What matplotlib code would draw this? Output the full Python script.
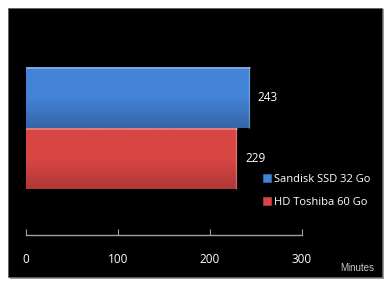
import numpy as np
import matplotlib.pyplot as plt
from matplotlib.patches import Rectangle
from matplotlib.colors import LinearSegmentedColormap

# données
series = ['Sandisk SSD 32 Go', 'HD Toshiba 60 Go']
values = [243, 229]
colors = ['#4383d6', '#d84644']
dark = ['#3565a8', '#b03836']
xticks = [0, 100, 200, 300]

W, H = 390, 285
fig = plt.figure(figsize=(W / 100, H / 100), dpi=100, facecolor='white')

# panneau noir avec ombre
fig.patches.append(Rectangle((10 / W, 6 / H), 374 / W, 270 / H, transform=fig.transFigure,
                             facecolor='#9a9a9a', edgecolor='none', zorder=-2))
fig.patches.append(Rectangle((8 / W, 8 / H), 374 / W, 269 / H, transform=fig.transFigure,
                             facecolor='black', edgecolor='#606060', lw=0.6, zorder=-1))

ax = fig.add_axes([26 / W, (H - 235) / H, 276 / W, 205 / H])
ax.set_facecolor('none')

ypos = [1, 0]
bars = ax.barh(ypos, values, height=1.0, color=colors, edgecolor='none', zorder=2)
for b, c1, c2 in zip(bars, colors, dark):
    x0, y0 = b.get_x(), b.get_y()
    w, h = b.get_width(), b.get_height()
    grad = np.linspace(0, 1, 64).reshape(-1, 1)
    cm = LinearSegmentedColormap.from_list('g', [c2, c1, c1])
    im = ax.imshow(grad, aspect='auto', cmap=cm, extent=[x0, x0 + w, y0, y0 + h],
                   origin='lower', zorder=3)
    im.set_clip_path(b)
    # reflets
    ax.plot([x0, x0 + w], [y0 + h * 0.985] * 2, color='white', alpha=0.35, lw=1.2, zorder=4)
    ax.plot([x0 + w - 0.6, x0 + w - 0.6], [y0, y0 + h], color='white', alpha=0.25, lw=1, zorder=4)

for y, v in zip(ypos, values):
    ax.text(v + 9, y, str(v), color='white', fontsize=8.5, va='center', ha='left',
            family='Open Sans')

ax.set_xlim(0, 300)
ax.set_ylim(-1.254, 2.107)
ax.set_xticks(xticks)
ax.set_xticklabels([str(t) for t in xticks], color='white', fontsize=8.5, family='Open Sans')
ax.tick_params(axis='x', direction='in', length=4, color='#a0a0a0', pad=13)
ax.set_yticks([])
for s in ['top', 'left', 'right']:
    ax.spines[s].set_visible(False)
ax.spines['bottom'].set_color('#a0a0a0')
ax.spines['bottom'].set_linewidth(1)

fig.text(357 / W, (H - 268) / H, 'Minutes', color='#c8c8c8', fontsize=7,
         ha='center', va='center', family='Liberation Sans')

handles = [Rectangle((0, 0), 1, 1, facecolor=c, edgecolor=d, lw=0.6) for c, d in zip(colors, dark)]
leg = fig.legend(handles, series, loc='upper left', bbox_to_anchor=(253 / W, (H - 164) / H),
                 frameon=False, handlelength=0.7, handleheight=0.7,
                 handletextpad=0.3, labelspacing=1.05,
                 prop={'family': 'Open Sans', 'size': 8})
for t in leg.get_texts():
    t.set_color('white')

fig.savefig('out.png', dpi=100, facecolor='white')
